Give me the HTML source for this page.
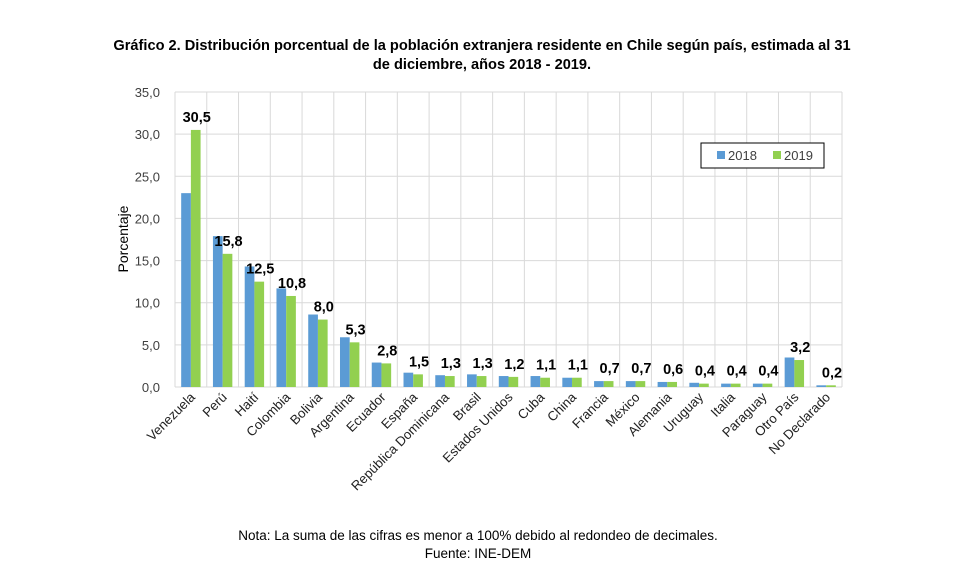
<!DOCTYPE html><html><head><meta charset="utf-8"><style>body{margin:0;background:#fff}svg{display:block}</style></head><body>
<svg width="964" height="570" xmlns="http://www.w3.org/2000/svg" font-family="Liberation Sans, sans-serif">
<text x="482" y="50" text-anchor="middle" font-size="14.6" font-weight="bold">Gráfico 2. Distribución porcentual de la población extranjera residente en Chile según país, estimada al 31</text>
<text x="482" y="69" text-anchor="middle" font-size="14.6" font-weight="bold">de diciembre, años 2018 - 2019.</text>
<g id="g"></g>
<text x="478" y="540" text-anchor="middle" font-size="13.5">Nota: La suma de las cifras es menor a 100% debido al redondeo de decimales.</text>
<text x="478" y="558" text-anchor="middle" font-size="13.5">Fuente: INE-DEM</text>
<text transform="translate(128,239) rotate(-90)" text-anchor="middle" font-size="14">Porcentaje</text>
<rect x="701" y="143" width="123" height="25" fill="#fff" stroke="#000" stroke-width="1"/>
<rect x="717" y="151" width="8" height="8" fill="#5b9bd5"/><text x="728" y="160" font-size="13" fill="#404040">2018</text>
<rect x="773" y="151" width="8" height="8" fill="#92d050"/><text x="784" y="160" font-size="13" fill="#404040">2019</text>
</svg>
<script>
const g=document.getElementById('g');
const L=175,R=842,T=92,B=387,k=(B-T)/35,cw=(R-L)/21;
let h='';
for(let i=0;i<=7;i++){const y=B-i*5*k;h+=`<line x1="${L}" x2="${R}" y1="${y}" y2="${y}" stroke="#d9d9d9"/>`;h+=`<text x="160" y="${y+5}" text-anchor="end" font-size="13" fill="#404040">${(i*5).toFixed(1).replace('.',',')}</text>`;}
for(let i=0;i<=21;i++){const x=L+i*cw;h+=`<line x1="${x}" x2="${x}" y1="${T}" y2="${B}" stroke="#d9d9d9"/>`;}
const n=["Venezuela","Perú","Haití","Colombia","Bolivia","Argentina","Ecuador","España","República Dominicana","Brasil","Estados Unidos","Cuba","China","Francia","México","Alemania","Uruguay","Italia","Paraguay","Otro País","No Declarado"];
const a=[23.0,17.9,14.3,11.7,8.6,5.9,2.9,1.7,1.4,1.5,1.3,1.3,1.1,0.7,0.7,0.6,0.5,0.4,0.4,3.5,0.2];
const b=[30.5,15.8,12.5,10.8,8.0,5.3,2.8,1.5,1.3,1.3,1.2,1.1,1.1,0.7,0.7,0.6,0.4,0.4,0.4,3.2,0.2];
n.forEach((s,i)=>{const c=L+(i+0.5)*cw,w=9.7;
h+=`<rect x="${c-w}" y="${B-a[i]*k}" width="${w}" height="${a[i]*k}" fill="#5b9bd5"/>`;
h+=`<rect x="${c}" y="${B-b[i]*k}" width="${w}" height="${b[i]*k}" fill="#92d050"/>`;
h+=`<text x="${c+w/2+1}" y="${B-b[i]*k-8}" text-anchor="middle" font-size="14.5" font-weight="bold">${b[i].toFixed(1).replace('.',',')}</text>`;
h+=`<text transform="translate(${c+5},398) rotate(-45)" text-anchor="end" font-size="13.2" fill="#222">${s}</text>`;});
g.innerHTML=h;
</script>
</body></html>
